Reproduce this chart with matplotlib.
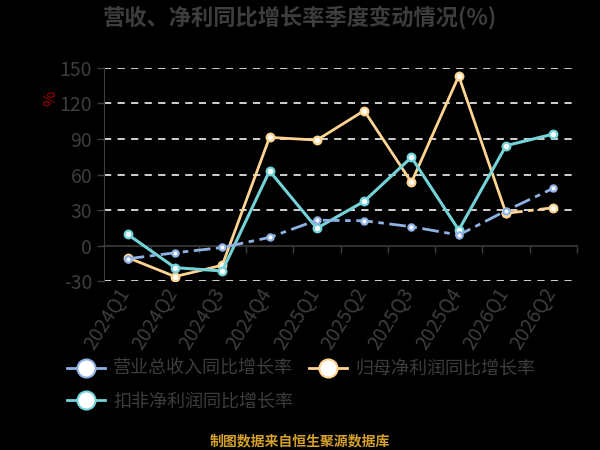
import matplotlib
matplotlib.use("Agg")
import matplotlib.pyplot as plt
import matplotlib.transforms as mtransforms
from matplotlib.lines import Line2D

plt.rcParams['font.family'] = ['Noto Sans CJK SC', 'DejaVu Sans']
plt.rcParams['axes.unicode_minus'] = False

quarters = ['2024Q1', '2024Q2', '2024Q3', '2024Q4', '2025Q1',
            '2025Q2', '2025Q3', '2025Q4', '2026Q1', '2026Q2']
revenue = [-11, -6, -1.5, 7, 21.5, 21, 16, 9, 29.5, 48.4]
net_profit = [-10, -26, -16.5, 91.3, 89, 113.8, 53.4, 143, 27.3, 32]
deducted = [9.6, -18.5, -21.3, 63, 14.7, 37.4, 74.5, 13.2, 84.3, 94.1]
names = ['营业总收入同比增长率', '归母净利润同比增长率', '扣非净利润同比增长率']
yticks = [-30, 0, 30, 60, 90, 120, 150]

c_rev = '#8fb1e3'
c_net = '#ffd591'
c_ded = '#73d3d8'
gray = '#3d3d3d'

fig = plt.figure(figsize=(6, 4.5), dpi=100, facecolor='black')
ax = fig.add_axes([104/600, 1-281.3/450, 473/600, 213.6/450], facecolor='black')

x = list(range(len(quarters)))

# gridlines
for v in yticks:
    if v != 0:
        ax.axhline(v, color='#e0e0e0', lw=1.3, ls=(0, (4, 3.5)), zorder=1)

mk = dict(marker='o', markerfacecolor='white', markeredgewidth=1.6)
ax.plot(x[:-1], net_profit[:-1], color=c_net, lw=2.0, ms=5.5, markeredgecolor=c_net, zorder=3, **mk)
ax.plot(x[-2:], net_profit[-2:], color=c_net, lw=2.0, ms=5.5, markeredgecolor=c_net,
        ls=(0, (6, 2, 2, 2)), zorder=3, **mk)
ax.plot(x, deducted, color=c_ded, lw=2.2, ms=5.5, markeredgecolor=c_ded, zorder=4, **mk)
ax.plot(x, revenue, color=c_rev, lw=2.0, ms=4.5, markeredgecolor=c_rev,
        ls=(0, (6, 2, 2, 2)), zorder=5, **mk)

ax.set_xlim(-0.5, len(quarters) - 0.5)
ax.set_ylim(-30, 150)
ax.set_yticks(yticks)
ax.tick_params(axis='y', colors=gray, labelsize=14, length=5, width=1, pad=3.5)

for s in ['top', 'right']:
    ax.spines[s].set_visible(False)
ax.spines['left'].set_color(gray)
ax.spines['bottom'].set_position(('data', 0))
ax.spines['bottom'].set_color(gray)
ax.spines['bottom'].set_linewidth(1.2)
ax.set_xticks([i + 0.5 for i in x])
ax.set_xticklabels([])
ax.tick_params(axis='x', colors=gray, length=5, width=1, direction='out')

# category labels under the plot
trans = mtransforms.blended_transform_factory(ax.transData, ax.transAxes)
offset = mtransforms.ScaledTranslation(-11/100, -3/100, fig.dpi_scale_trans)
for i, q in enumerate(quarters):
    ax.text(i, 0, q, transform=trans + offset, rotation=58, rotation_mode='anchor',
            ha='right', va='top', color=gray, fontsize=14)

ax.text(-0.112, 0.858, '%', transform=ax.transAxes, color='#a00000', fontsize=12,
        rotation=90, ha='center', va='center')

fig.text(0.5, 1-17.5/450, '营收、净利同比增长率季度变动情况(%)', ha='center', va='center',
         color=gray, fontsize=16, fontweight='bold')

handles = [Line2D([], [], color=c, lw=2, marker='o', ms=13, markerfacecolor='white',
                  markeredgecolor=c, markeredgewidth=1.5) for c in [c_rev, c_ded, c_net]]
labels = [names[0], names[2], names[1]]
leg = fig.legend(handles, labels, loc='upper left', bbox_to_anchor=(67/600, 1-360/450),
                 ncol=2, frameon=False, fontsize=13, labelcolor=gray, handlelength=2.1,
                 handletextpad=0.45, columnspacing=0.9, labelspacing=0.8, borderpad=0,
                 borderaxespad=0)

fig.text(0.5, 1-441.7/450, '制图数据来自恒生聚源数据库', ha='center', va='center',
         color='#d4a02a', fontsize=10, fontweight='bold')

fig.savefig('out.png', dpi=100, facecolor='black')
